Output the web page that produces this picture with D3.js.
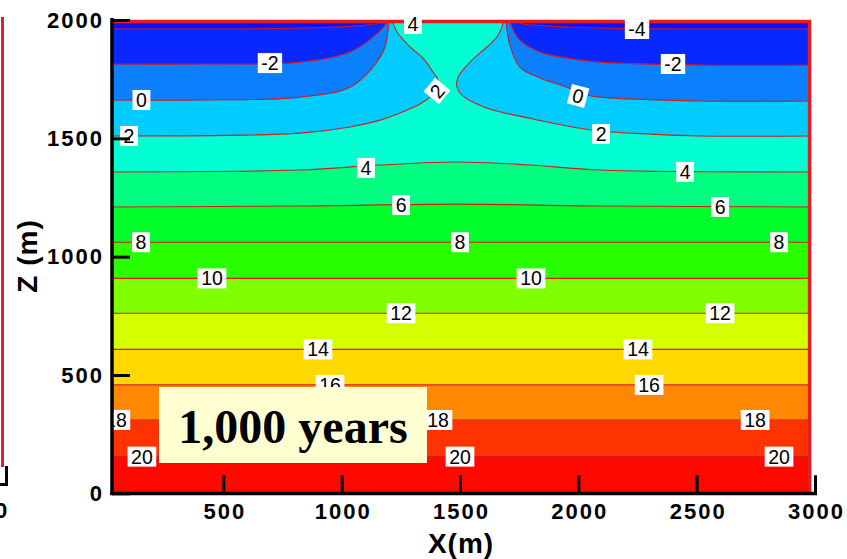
<!DOCTYPE html>
<html><head><meta charset="utf-8">
<script src="https://cdn.jsdelivr.net/npm/d3@7"></script>
<style>body{margin:0;background:#fff}svg{display:block}</style>
</head><body><svg id="c" width="847" height="559"></svg>
<script>
// ---- data (X in m, Z in m) ----
const levels = [-4, -2, 0, 2, 4, 6, 8, 10, 12, 14, 16, 18, 20];
const bandColors = ["#0f0fff","#0828ff","#0a80ff","#00ccff","#00ffd2","#00ff80","#00ff2a","#2aff00","#80ff00","#d4ff00","#ffd800","#ff8800","#ff3300","#ff0800"];
const xDomain = [25, 2975];
const zDomain = [0, 2000];

const contourM4Left  = [[25,1962],[824,1966],[1107,1979],[1175,1991],[1183,2000]];
const contourM4Right = [[1732,2000],[1760,1984],[1808,1979],[2092,1966],[2975,1962]];
const contourM2Left  = [[25,1814],[401,1814],[824,1822],[1035,1865],[1132,1928],[1183,1979],[1192,2000]];
const contourM2Right = [[1711,2000],[1720,1970],[1753,1915],[1838,1865],[1952,1839],[2092,1822],[2515,1810],[2975,1810]];
const contour0Left   = [[25,1662],[401,1662],[824,1674],[1035,1716],[1132,1801],[1183,1886],[1196,1958],[1200,2000]];
const contour0Right  = [[1694,2000],[1699,1958],[1711,1894],[1753,1801],[1838,1755],[1952,1716],[2037,1683],[2092,1674],[2515,1658],[2975,1658]];
const contour2Left   = [[25,1510],[824,1522],[1035,1548],[1162,1577],[1246,1607],[1331,1645],[1373,1674],[1403,1712],[1407,1746],[1386,1780],[1344,1839],[1289,1886],[1234,1949],[1217,1987],[1213,2000]];
const contour2Right  = [[1686,2000],[1677,1970],[1656,1928],[1614,1886],[1542,1822],[1492,1759],[1487,1717],[1508,1683],[1572,1645],[1639,1620],[1808,1582],[1952,1552],[2092,1531],[2303,1518],[2515,1510],[2975,1510]];
const contour4 = [[25,1358],[824,1366],[1162,1387],[1487,1400],[1796,1387],[2092,1366],[2975,1358]];
const contour6 = [[25,1210],[824,1214],[1487,1222],[2092,1214],[2975,1210]];
const flatLevels = [8, 10, 12, 14, 16, 18, 20];
const flatDepths = [1061, 908, 761, 608, 458, 310, 155];

const xMajor = [500, 1000, 1500, 2000, 2500, 3000];
const yMajor = [0, 500, 1000, 1500, 2000];

const contourLabels = [
  ["4",1301,1983,0], ["-4",2248,1962,0],
  ["-2",697,1818,0], ["-2",2400,1814,0],
  ["0",154,1662,0], ["0",1999,1679,15],
  ["2",101,1510,0], ["2",1403,1700,-50], ["2",2096,1518,0],
  ["4",1103,1375,0], ["4",2451,1358,0],
  ["6",1251,1218,0], ["6",2599,1210,0],
  ["8",152,1061,0], ["8",1500,1061,0], ["8",2848,1061,0],
  ["10",452,908,0], ["10",1800,908,0],
  ["12",1251,761,0], ["12",2599,761,0],
  ["14",900,608,0], ["14",2252,608,0],
  ["16",951,458,0], ["16",2299,458,0],
  ["18",46,310,0], ["18",1407,310,0], ["18",2747,310,0],
  ["20",156,155,0], ["20",1500,155,0], ["20",2848,155,0]
];
const timeLabel = "1,000 years";

// ---- build contour set ----
const contourSet = [
  {level:-4, parts:[{t:"left",p:contourM4Left},{t:"right",p:contourM4Right}]},
  {level:-2, parts:[{t:"left",p:contourM2Left},{t:"right",p:contourM2Right}]},
  {level:0,  parts:[{t:"left",p:contour0Left},{t:"right",p:contour0Right}]},
  {level:2,  parts:[{t:"left",p:contour2Left},{t:"right",p:contour2Right}]},
  {level:4,  parts:[{t:"full",p:contour4}]},
  {level:6,  parts:[{t:"full",p:contour6}]}
].concat(flatLevels.map((l,i)=>({level:l, parts:[{t:"full",p:[[xDomain[0],flatDepths[i]],[xDomain[1],flatDepths[i]]]}]})));

// ---- scales ----
const xs = d3.scaleLinear().domain([0,3000]).range([105,815]);
const ys = d3.scaleLinear().domain([0,2000]).range([493.3,20]);
const svg = d3.select("#c");
const FONT = "'Liberation Sans', Arial, Helvetica, sans-serif";

const px0 = xs(xDomain[0]), px1 = xs(xDomain[1]), py0 = ys(zDomain[1]), py1 = ys(zDomain[0]);
const defs = svg.append("defs");
defs.append("clipPath").attr("id","plotClip").append("rect")
  .attr("x",px0).attr("y",py0).attr("width",px1-px0).attr("height",py1-py0);
defs.append("clipPath").attr("id","labClip").append("rect")
  .attr("x",px0+2).attr("y",0).attr("width",px1-px0).attr("height",py1);

// left-hand remnants of neighbouring panel
svg.append("line").attr("x1",2.5).attr("x2",2.5).attr("y1",17).attr("y2",467)
  .attr("stroke","#e31b23").attr("stroke-width",3);
svg.append("path").attr("d","M6.5,466V485.5M0,484.5H8").attr("stroke","#000").attr("stroke-width",3).attr("fill","none");
svg.append("text").attr("x",1).attr("y",518).attr("text-anchor","middle")
  .attr("font-family",FONT).attr("font-weight","bold").attr("font-size",22).text("0");

// ---- filled bands ----
const line = d3.line().x(d=>xs(d[0])).y(d=>ys(d[1])).curve(d3.curveCatmullRom.alpha(0.5));
const plot = svg.append("g").attr("clip-path","url(#plotClip)");
plot.append("rect").attr("x",px0).attr("y",py0).attr("width",px1-px0).attr("height",py1-py0)
  .attr("fill",bandColors[bandColors.length-1]);
const topY = ys(zDomain[1]);
[...contourSet].sort((a,b)=>b.level-a.level).forEach(c=>{
  const col = bandColors[levels.indexOf(c.level)];
  c.parts.forEach(part=>{
    let d = line(part.p);
    if (part.t==="full") d += `L${px1},${topY}L${px0},${topY}Z`;
    else if (part.t==="left") d += `L${px0},${topY}Z`;
    else d += `L${px1},${topY}Z`;
    plot.append("path").attr("d",d).attr("fill",col).attr("stroke",col).attr("stroke-width",0.5);
  });
});
// contour lines
contourSet.forEach(c=>c.parts.forEach(part=>{
  plot.append("path").attr("d",line(part.p)).attr("fill","none")
    .attr("stroke","#d41c1c").attr("stroke-width",1.1);
}));

// red frame (top, right)
svg.append("path").attr("d",`M${px0},21.5H${px1+0.5}V${py1}`)
  .attr("fill","none").attr("stroke","#e31b23").attr("stroke-width",3.5);

// ---- contour labels ----
const lg = svg.append("g").attr("clip-path","url(#labClip)");
contourLabels.forEach(([t,x,z,a])=>{
  const g = lg.append("g").attr("transform",`translate(${xs(x)},${ys(z)}) rotate(${a})`);
  const r = g.append("rect").attr("fill","#fff");
  const tx = g.append("text").attr("text-anchor","middle").attr("y",7)
    .attr("font-family",FONT).attr("font-size",19.5).attr("fill","#000").text(t);
  const w = tx.node().getComputedTextLength() + 7;
  r.attr("x",-w/2).attr("y",-10).attr("width",w).attr("height",20);
});

// ---- time legend box ----
svg.append("rect").attr("x",159).attr("y",387).attr("width",268).attr("height",76).attr("fill","#ffffd2");
svg.append("text").attr("x",293).attr("y",443).attr("text-anchor","middle")
  .attr("font-family","'Liberation Serif','Times New Roman',serif").attr("font-weight","bold")
  .attr("font-size",48).attr("fill","#000").text(timeLabel);

// ---- axes ----
const xMinor = d3.range(100,3000,100).filter(v=>v%500!==0);
const yMinor = d3.range(100,2000,100).filter(v=>v%500!==0);
const axY = 112;
const fmt = d3.format("d");
const xg = svg.append("g").attr("transform",`translate(0,${ys(0)})`);
xg.call(d3.axisBottom(xs).tickValues(xMinor).tickSize(-9).tickSizeOuter(0).tickFormat(""));
xg.call(d3.axisBottom(xs).tickValues(xMajor).tickSize(-18).tickSizeOuter(0).tickPadding(10).tickFormat(fmt));
const yg = svg.append("g").attr("transform",`translate(${axY},0)`);
yg.call(d3.axisLeft(ys).tickValues(yMinor).tickSize(-9).tickSizeOuter(0).tickFormat(""));
yg.call(d3.axisLeft(ys).tickValues(yMajor).tickSize(-18).tickSizeOuter(0).tickPadding(10).tickFormat(fmt));
svg.selectAll(".domain").remove();
xg.selectAll(".tick line").attr("stroke","#000").attr("stroke-width",1.6);
yg.selectAll(".tick line").attr("stroke","#000").attr("stroke-width",1.6);
xg.selectAll(".tick").filter(d=>xMajor.includes(d)).select("line").attr("stroke-width",3);
yg.selectAll(".tick").filter(d=>yMajor.includes(d)).select("line").attr("stroke-width",3);
svg.selectAll(".tick text").attr("font-family",FONT).attr("font-weight","bold")
  .attr("font-size",22).attr("letter-spacing","2px").attr("fill","#000");
xg.selectAll(".tick text").attr("dx","1px");
yg.selectAll(".tick text").attr("dx","2px");
svg.append("line").attr("x1",axY).attr("x2",axY).attr("y1",18).attr("y2",495)
  .attr("stroke","#000").attr("stroke-width",3.5);
svg.append("line").attr("x1",110).attr("x2",817).attr("y1",493.5).attr("y2",493.5)
  .attr("stroke","#000").attr("stroke-width",3.5);

// axis titles
svg.append("text").attr("x",461).attr("y",553).attr("text-anchor","middle")
  .attr("font-family",FONT).attr("font-weight","bold").attr("font-size",28)
  .attr("letter-spacing","1px").text("X(m)");
svg.append("text").attr("transform","translate(37,256) rotate(-90)").attr("text-anchor","middle")
  .attr("font-family",FONT).attr("font-weight","bold").attr("font-size",28)
  .attr("letter-spacing","1px").text("Z (m)");
</script></body></html>
